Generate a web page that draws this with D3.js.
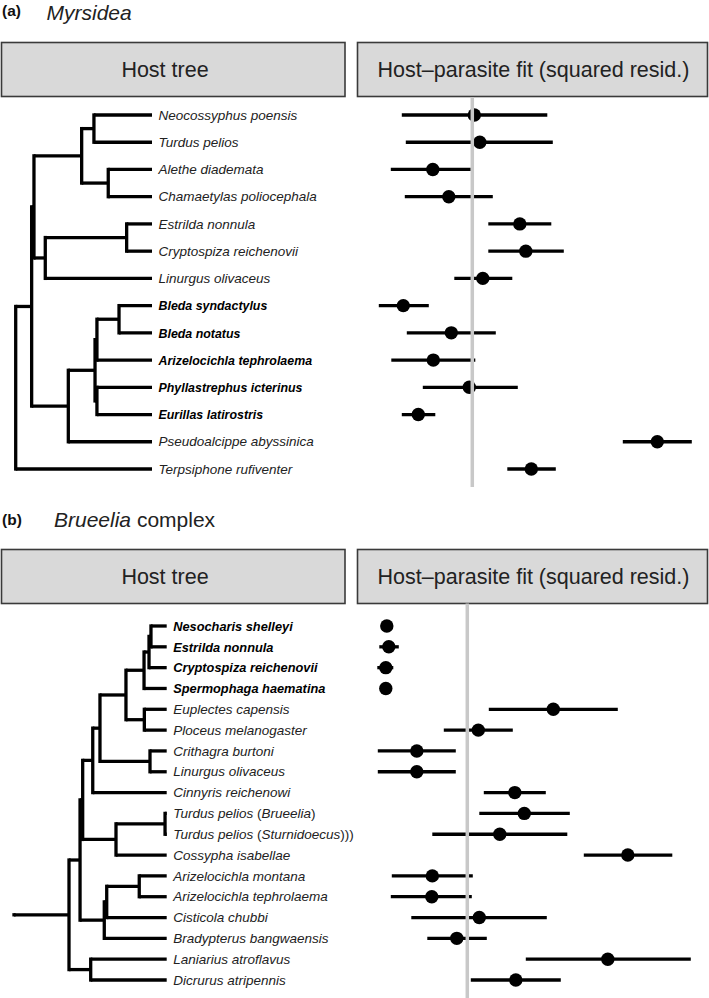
<!doctype html>
<html>
  <head>
    <meta charset="utf-8" />
    <title>Myrsidea / Brueelia host-parasite fit</title>
    <style>
      body { margin: 0; background: #fff; }
      svg { display: block; font-family: "Liberation Sans", Arial, sans-serif; }
      .hdr rect { fill: #d9d9d9; stroke: #3a3a3a; stroke-width: 1.6; }
      .hdr text { font-size: 21.5px; fill: #222; text-anchor: middle; }
      .branch { stroke: #000; stroke-width: 3.3; fill: none; }
      .tip { font-size: 13.5px; font-style: italic; fill: #222; }
      .tip.bold { font-weight: bold; fill: #000; }
      .ci { stroke: #000; stroke-width: 3.3; }
      .ref { stroke: #c8c8c8; stroke-width: 3.5; }
    </style>
  </head>
  <body>
    <svg id="chart" width="709" height="998"></svg>

    <script src="https://d3js.org/d3.v7.min.js"></script>
    <script>
      // ---- data ----
      // host trees (Newick, branch lengths, tips = 100)
      const topTree =
        "(((((Neocossyphus_poensis:42.6,Turdus_pelios:42.6):9.0,(Alethe_diademata:32.1,Chamaetylas_poliocephala:32.1):19.5):35.0," +
        "((Estrilda_nonnula:18.6,Cryptospiza_reichenovii:18.6):59.7,Linurgus_olivaceus:78.3):8.3):1.7," +
        "((((Bleda_syndactylus:24.2,Bleda_notatus:24.2):16.2,Arizelocichla_tephrolaema:40.4):1.4," +
        "(Phyllastrephus_icterinus:40.4,Eurillas_latirostris:40.4):1.4):19.6,Pseudoalcippe_abyssinica:61.4):26.9):11.7," +
        "Terpsiphone_rufiventer:100):0;";
      const bottomTree =
        "((((((((((Nesocharis_shelleyi:16.1,Estrilda_nonnula:16.1):2.0,Cryptospiza_reichenovii:18.1):5.1,Spermophaga_haematina:23.2):18.5," +
        "(Euplectes_capensis:22.9,Ploceus_melanogaster:22.9):18.8):26.6,(Crithagra_burtoni:17.1,Linurgus_olivaceus:17.1):51.2):7.4," +
        "Cinnyris_reichenowi:75.7):10.3,(('Turdus pelios (Brueelia)':1.7,'Turdus pelios (Sturnidoecus)))':1.7):50.2,Cossypha_isabellae:51.9):34.1):2.7," +
        "(((Arizelocichla_montana:28.1,Arizelocichla_tephrolaema:28.1):33.3,Cisticola_chubbi:61.4):2.5,Bradypterus_bangwaensis:63.9):24.8):11.3," +
        "(Laniarius_atroflavus:77.8,Dicrurus_atripennis:77.8):22.2):56.3;";

      const topBold = ["Bleda syndactylus", "Bleda notatus", "Arizelocichla tephrolaema",
        "Phyllastrephus icterinus", "Eurillas latirostris"];
      const bottomBold = ["Nesocharis shelleyi", "Estrilda nonnula", "Cryptospiza reichenovii",
        "Spermophaga haematina"];

      // squared residuals (point, lower, upper), 0 = reference line, tips in tree order
      const topFit = [0.04, 0.15, -0.79, -0.47, 0.95, 1.07, 0.21, -1.38, -0.42, -0.78, -0.06, -1.08, 3.70, 1.18];
      const topLo  = [-1.41, -1.33, -1.63, -1.35, 0.32, 0.32, -0.36, -1.87, -1.31, -1.62, -0.99, -1.41, 3.01, 0.70];
      const topHi  = [1.50, 1.61, -0.03, 0.41, 1.58, 1.83, 0.80, -0.87, 0.47, 0.06, 0.91, -0.74, 4.39, 1.67];

      const bottomFit = [-1.61, -1.57, -1.63, -1.63, 1.72, 0.22, -1.01, -1.01, 0.95, 1.14, 0.65, 3.21, -0.70, -0.71, 0.24, -0.21, 2.81, 0.97];
      const bottomLo  = [-1.73, -1.76, -1.80, -1.63, 0.43, -0.47, -1.79, -1.79, 0.33, 0.24, -0.70, 2.33, -1.51, -1.53, -1.12, -0.80, 1.17, 0.07];
      const bottomHi  = [-1.51, -1.37, -1.48, -1.63, 3.01, 0.91, -0.23, -0.23, 1.57, 2.05, 2.00, 4.10, 0.11, 0.09, 1.59, 0.39, 4.47, 1.87];

      // ---- newick parser ----
      function parseNewick(s) {
        let i = 0;
        function node() {
          const n = {};
          if (s[i] === '(') {
            i++;
            n.children = [];
            do { n.children.push(node()); } while (s[i++] === ',');
          }
          let name = '';
          if (s[i] === "'") {
            i++;
            while (s[i] !== "'") name += s[i++];
            i++;
          } else {
            while (i < s.length && !',():;'.includes(s[i])) name += s[i++];
          }
          n.name = name.replace(/_/g, ' ');
          if (s[i] === ':') {
            i++;
            let len = '';
            while (i < s.length && !',();'.includes(s[i])) len += s[i++];
            n.length = +len;
          }
          return n;
        }
        return node();
      }

      const svg = d3.select('#chart');

      function header(y, h) {
        const g = svg.append('g').attr('class', 'hdr');
        g.append('rect').attr('x', 1.5).attr('y', y).attr('width', 343.5).attr('height', h);
        g.append('text').attr('x', 165).attr('y', y + h / 2 + 7.5).text('Host tree');
        g.append('rect').attr('x', 357.5).attr('y', y).attr('width', 350).attr('height', h);
        g.append('text').attr('x', 533.5).attr('y', y + h / 2 + 7.5).text('Host\u2013parasite fit (squared resid.)');
      }

      function drawPanel(opt) {
        const root = d3.hierarchy(parseNewick(opt.newick));
        root.eachBefore(d => {
          d.len = (d.parent ? d.parent.len : 0) + (d.data.length || 0);
        });
        const leaves = root.leaves();
        const maxLen = d3.max(leaves, d => d.len);
        const x = d3.scaleLinear().domain([0, maxLen]).range(opt.treeRange);
        const y = d3.scalePoint().domain(leaves.map(d => d.data.name)).range(opt.rowRange);

        root.eachAfter(d => {
          d.py = d.children
            ? (d.children[0].py + d.children[d.children.length - 1].py) / 2
            : y(d.data.name);
        });

        const g = svg.append('g');
        // horizontal branches
        g.selectAll('line.h')
          .data(root.descendants())
          .join('line')
          .attr('class', 'branch')
          .attr('x1', d => x(d.parent ? d.parent.len : 0))
          .attr('x2', d => x(d.len))
          .attr('y1', d => d.py)
          .attr('y2', d => d.py)
          .attr('stroke-linecap', 'butt');
        // vertical connectors
        g.selectAll('line.v')
          .data(root.descendants().filter(d => d.children))
          .join('line')
          .attr('class', 'branch')
          .attr('x1', d => x(d.len))
          .attr('x2', d => x(d.len))
          .attr('y1', d => d.children[0].py)
          .attr('y2', d => d.children[d.children.length - 1].py)
          .attr('stroke-linecap', 'square');

        // tip labels
        const tips = g.selectAll('text.tip')
          .data(leaves)
          .join('text')
          .attr('class', d => 'tip' + (opt.bold.includes(d.data.name) ? ' bold' : ''))
          .style('font-size', d => opt.bold.includes(d.data.name) ? opt.boldSize + 'px' : null)
          .attr('x', x(maxLen) + 6.5)
          .attr('y', d => d.py + 4.7);
        tips.each(function (d) {
          const parts = d.data.name.split(/([()]+)/).filter(p => p !== '');
          const t = d3.select(this);
          parts.forEach(p => {
            t.append('tspan')
              .attr('font-style', /^[()]+$/.test(p) ? 'normal' : null)
              .text(p);
          });
        });

        // fit panel
        const xf = d3.scaleLinear().domain([0, 1]).range(opt.fitRange);
        const rows = leaves.map((d, i) => ({ y: d.py, v: opt.fit[i], lo: opt.lo[i], hi: opt.hi[i] }));
        const fg = svg.append('g');
        fg.selectAll('line.ci')
          .data(rows)
          .join('line')
          .attr('class', 'ci')
          .attr('x1', d => xf(d.lo))
          .attr('x2', d => xf(d.hi))
          .attr('y1', d => d.y)
          .attr('y2', d => d.y);
        fg.selectAll('circle')
          .data(rows)
          .join('circle')
          .attr('cx', d => xf(d.v))
          .attr('cy', d => d.y)
          .attr('r', 6.7)
          .attr('fill', '#000');
        fg.append('line')
          .attr('class', 'ref')
          .attr('x1', xf(0))
          .attr('x2', xf(0))
          .attr('y1', opt.refY[0])
          .attr('y2', opt.refY[1]);
      }

      // ---- panel (a) ----
      svg.append('text').attr('x', 2).attr('y', 15.5)
        .style('font-size', '15.5px').style('font-weight', 'bold').attr('fill', '#111').text('(a)');
      svg.append('text').attr('x', 46.5).attr('y', 19.5)
        .style('font-size', '21px').style('font-style', 'italic').attr('fill', '#222').text('Myrsidea');
      header(42.5, 54);
      drawPanel({
        newick: topTree, bold: topBold, boldSize: 12.4,
        treeRange: [15.7, 152], rowRange: [115, 469],
        fit: topFit, lo: topLo, hi: topHi,
        fitRange: [472.3, 522.3], refY: [97, 487]
      });

      // ---- panel (b) ----
      svg.append('text').attr('x', 2).attr('y', 524.5)
        .style('font-size', '15.5px').style('font-weight', 'bold').attr('fill', '#111').text('(b)');
      const bt = svg.append('text').attr('x', 54).attr('y', 526.5)
        .style('font-size', '21px').attr('fill', '#222');
      bt.append('tspan').style('font-style', 'italic').text('Brueelia');
      bt.append('tspan').text(' complex');
      header(549.5, 54);
      drawPanel({
        newick: bottomTree, bold: bottomBold, boldSize: 12.8,
        treeRange: [14, 166.7], rowRange: [626, 980],
        fit: bottomFit, lo: bottomLo, hi: bottomHi,
        fitRange: [467.3, 517.3], refY: [603.5, 998]
      });
    </script>
  </body>
</html>
